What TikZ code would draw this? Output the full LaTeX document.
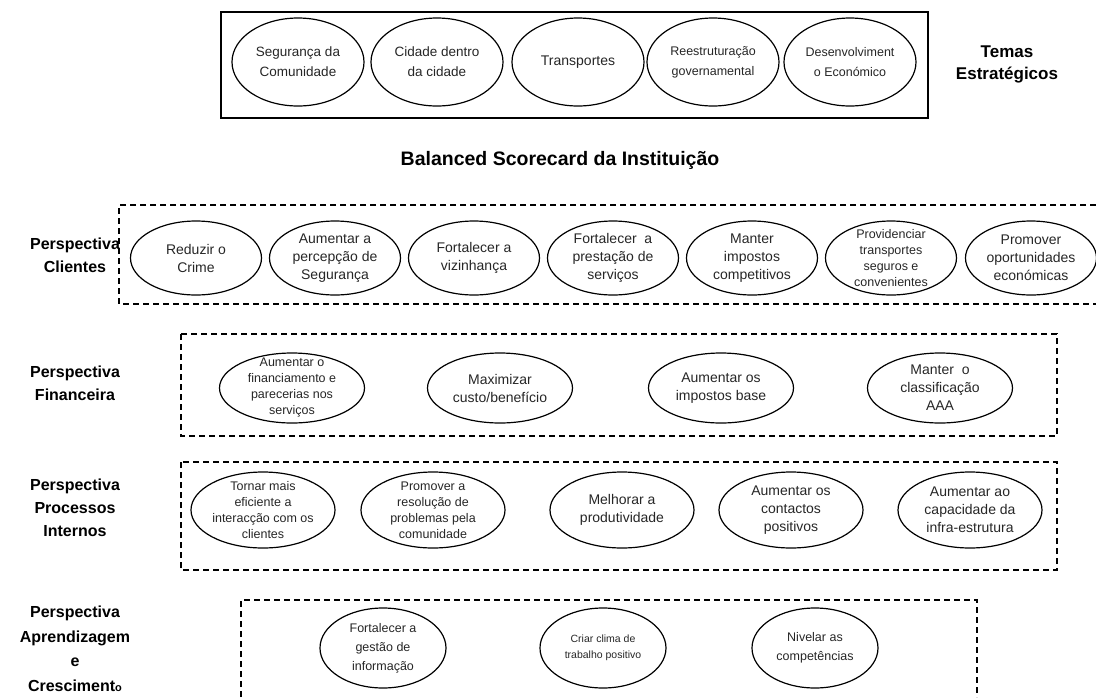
\documentclass[tikz,border=0pt]{standalone}
\usepackage{fontspec}
\setmainfont{Liberation Sans}
\usetikzlibrary{shapes.geometric}
\tikzset{
	obj/.style={ellipse,draw=black,line width=1.2pt,inner sep=0pt,minimum width=131pt,minimum height=74pt},
	theme/.style={obj,minimum width=132pt,minimum height=88pt},
	fin/.style={obj,minimum width=145pt,minimum height=70pt},
	proc/.style={obj,minimum width=144pt,minimum height=76pt},
	learn/.style={obj,minimum width=126pt,minimum height=80pt},
	otext/.style={align=center,text=black!85,font=\fontsize{14}{18}\selectfont},
	otight/.style={align=center,text=black!85,font=\fontsize{12.5}{16}\selectfont},
	persp/.style={align=center,font=\bfseries\fontsize{16}{23}\selectfont},
	zone/.style={draw=black,line width=1.5pt,dash pattern=on 6pt off 4pt},
}

\begin{document}
\begin{tikzpicture}[x=1pt,y=-1pt]
	\useasboundingbox (0,0) rectangle (1096,697);
	\begin{scope}
		\node[draw,line width=1.5pt,inner sep=0pt,minimum width=707pt,minimum height=106pt] (themes) at (574.5,65) {};
		\node[theme,label={[otext,font=\fontsize{13.5}{20}\selectfont]center:Segurança da\\Comunidade}] (t1) at (298,62) {};
		\node[theme,label={[otext,font=\fontsize{13.5}{20}\selectfont]center:Cidade dentro\\da cidade}] (t2) at (437,62) {};
		\node[theme,label={[otext]center:Transportes}] (t3) at (578,62) {};
		\node[theme,label={[otight,font=\fontsize{12.5}{20}\selectfont]center:Reestruturação\\governamental}] (t4) at (713,62) {};
		\node[theme,label={[otight,font=\fontsize{12.5}{20}\selectfont]center:Desenvolviment\\o Económico}] (t5) at (850,62) {};
		\node[persp,font=\bfseries\fontsize{17}{22}\selectfont] (ptemas) at (1007,64) {Temas\\Estratégicos};
	\end{scope}
	\node[font=\bfseries\fontsize{19.5}{22}\selectfont] (bsc) at (560,160) {Balanced Scorecard da Instituição};
	\begin{scope}
		\draw[zone] (1096,205) -- (119,205) -- (119,304) -- (1096,304);
		\node[obj,label={[otext]center:Reduzir o\\Crime}] (c1) at (196,258) {};
		\node[obj,label={[otext]center:Aumentar a\\percepção de\\Segurança}] (c2) at (335,258) {};
		\node[obj,label={[otext]center:Fortalecer a\\vizinhança}] (c3) at (474,258) {};
		\node[obj,label={[otext]center:Fortalecer~ a\\prestação de\\serviços}] (c4) at (613,258) {};
		\node[obj,label={[otext]center:Manter\\impostos\\competitivos}] (c5) at (752,258) {};
		\node[obj,label={[otight]center:Providenciar\\transportes\\seguros e\\convenientes}] (c6) at (891,258) {};
		\node[obj,label={[otext]center:Promover\\oportunidades\\económicas}] (c7) at (1031,258) {};
		\node[persp] (pcli) at (75,255) {Perspectiva\\Clientes};
	\end{scope}
	\begin{scope}
		\draw[zone] (181,334) rectangle (1057,436);
		\node[fin,label={[otight]center:Aumentar o\\financiamento e\\parecerias nos\\serviços}] (f1) at (292,388) {};
		\node[fin,label={[otext]center:Maximizar\\custo/benefício}] (f2) at (500,388) {};
		\node[fin,label={[otext]center:Aumentar os\\impostos base}] (f3) at (721,388) {};
		\node[fin,label={[otext]center:Manter~ o\\classificação\\AAA}] (f4) at (940,388) {};
		\node[persp] (pfin) at (75,383) {Perspectiva\\Financeira};
	\end{scope}
	\begin{scope}
		\draw[zone] (181,462) rectangle (1057,570);
		\node[proc,label={[otight]center:Tornar mais\\eficiente a\\interacção com os\\clientes}] (p1) at (263,510) {};
		\node[proc,label={[otight]center:Promover a\\resolução de\\problemas pela\\comunidade}] (p2) at (433,510) {};
		\node[proc,label={[otext]center:Melhorar a\\produtividade}] (p3) at (622,510) {};
		\node[proc,label={[otext]center:Aumentar os\\contactos\\positivos}] (p4) at (791,510) {};
		\node[proc,label={[otext]center:Aumentar ao\\capacidade da\\infra-estrutura}] (p5) at (970,510) {};
		\node[persp] (pproc) at (75,508) {Perspectiva\\Processos\\Internos};
	\end{scope}
	\begin{scope}
		\draw[zone] (241,697) -- (241,600) -- (977,600) -- (977,697);
		\node[learn,label={[otext,font=\fontsize{12.5}{19}\selectfont]center:Fortalecer a\\gestão de\\informação}] (l1) at (383,648) {};
		\node[learn,label={[otext,font=\fontsize{10.5}{16}\selectfont]center:Criar clima de\\trabalho positivo}] (l2) at (603,648) {};
		\node[learn,label={[otext,font=\fontsize{12.5}{19}\selectfont]center:Nivelar as\\competências}] (l3) at (815,648) {};
		\node[persp,font=\bfseries\fontsize{16}{24.5}\selectfont] (papr) at (75,649) {Perspectiva\\Aprendizagem\\e\\Crescimen{}t{\fontsize{11}{11}\selectfont o}};
	\end{scope}
\end{tikzpicture}
\end{document}
